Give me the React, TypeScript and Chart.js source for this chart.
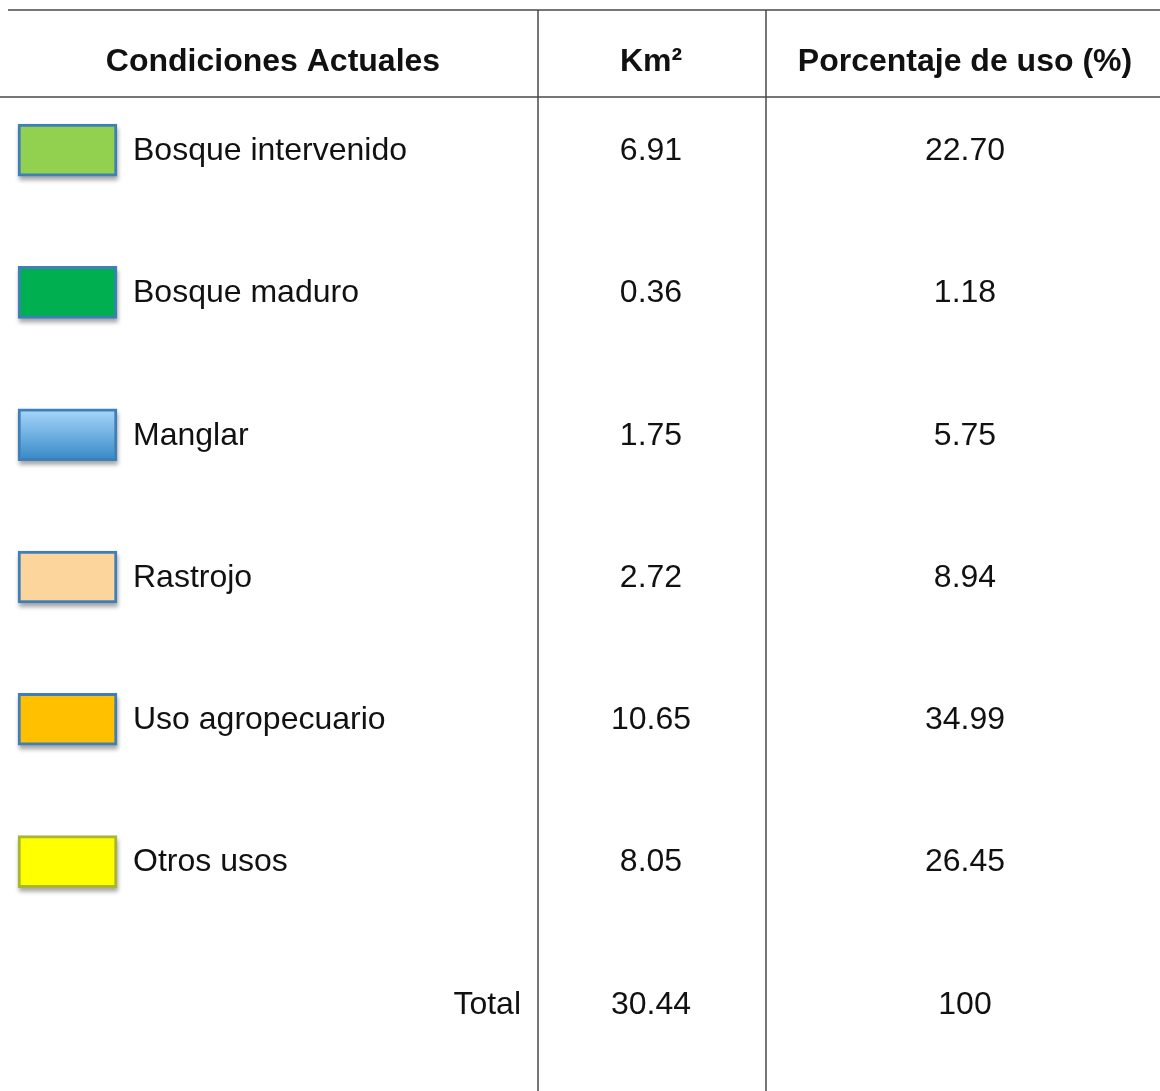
import React, { useEffect, useRef } from "react";
import { Chart, registerables } from "chart.js";

Chart.register(...registerables);

// ---- data ----
const headers = ["Condiciones Actuales", "Km²", "Porcentaje de uso (%)"];
const categories = [
  "Bosque intervenido",
  "Bosque maduro",
  "Manglar",
  "Rastrojo",
  "Uso agropecuario",
  "Otros usos",
];
const km2Values = ["6.91", "0.36", "1.75", "2.72", "10.65", "8.05"];
const percentValues = ["22.70", "1.18", "5.75", "8.94", "34.99", "26.45"];
const totalLabel = "Total";
const totalKm2 = "30.44";
const totalPercent = "100";

const swatchFills = ["#92D050", "#00B050", "gradient", "#FCD59C", "#FFC000", "#FFFF00"];
const swatchBorders = ["#3F7FB8", "#3F7FB8", "#3F7FB8", "#3F7FB8", "#3F7FB8", "#A8B632"];

// ---- layout (styles, not data) ----
const W = 1160;
const H = 1091;
const FONT = '"Liberation Sans", Arimo, Arial, sans-serif';
const SW_X0 = 18;
const SW_X1 = 117;
const COL1 = 538;
const COL2 = 766;
const LABEL_X = 133;
const KM_X = 651;
const PCT_X = 965;
const TOTAL_RIGHT = 521;
const TOP_LINE = 10;
const HEAD_LINE = 97;
const HEAD_Y = 62;
const TEXT_DY = 1;

const tablePlugin = {
  id: "tablePlugin",
  beforeDatasetsDraw(chart: any) {
    const ctx = chart.ctx;
    const meta = chart.getDatasetMeta(0);
    ctx.save();
    ctx.filter = "blur(2px)";
    ctx.fillStyle = "rgba(0,0,0,0.35)";
    meta.data.forEach((bar: any, i: number) => {
      if (i >= categories.length) return;
      const { x, y, base, height } = bar.getProps(["x", "y", "base", "height"], true);
      ctx.fillRect(Math.min(x, base) + 1, y - height / 2 + 4, Math.abs(x - base), height);
    });
    ctx.restore();
  },
  afterDraw(chart: any) {
    const ctx = chart.ctx;
    const yScale = chart.scales.y;
    ctx.save();
    // lines
    ctx.strokeStyle = "#4a4a4a";
    ctx.lineWidth = 1.5;
    ctx.beginPath();
    ctx.moveTo(8, TOP_LINE);
    ctx.lineTo(W, TOP_LINE);
    ctx.moveTo(0, HEAD_LINE);
    ctx.lineTo(W, HEAD_LINE);
    ctx.moveTo(COL1, TOP_LINE);
    ctx.lineTo(COL1, H);
    ctx.moveTo(COL2, TOP_LINE);
    ctx.lineTo(COL2, H);
    ctx.stroke();

    // headers
    ctx.fillStyle = "#111";
    ctx.textBaseline = "middle";
    ctx.font = `bold 32px ${FONT}`;
    ctx.textAlign = "center";
    ctx.fillText(headers[0], (8 + COL1) / 2, HEAD_Y);
    ctx.fillText(headers[1], KM_X, HEAD_Y);
    ctx.fillText(headers[2], PCT_X, HEAD_Y);

    // rows
    ctx.font = `32px ${FONT}`;
    categories.forEach((c, i) => {
      const y = yScale.getPixelForValue(i) + TEXT_DY;
      ctx.textAlign = "left";
      ctx.fillText(c, LABEL_X, y);
      ctx.textAlign = "center";
      ctx.fillText(km2Values[i], KM_X, y);
      ctx.fillText(percentValues[i], PCT_X, y);
    });
    const ty = yScale.getPixelForValue(categories.length) + TEXT_DY;
    ctx.textAlign = "right";
    ctx.fillText(totalLabel, TOTAL_RIGHT, ty);
    ctx.textAlign = "center";
    ctx.fillText(totalKm2, KM_X, ty);
    ctx.fillText(totalPercent, PCT_X, ty);
    ctx.restore();
  },
};

export default function App() {
  const ref = useRef<HTMLCanvasElement | null>(null);

  useEffect(() => {
    if (!ref.current) return;
    const labels = [...categories, totalLabel];
    const chart = new Chart(ref.current, {
      type: "bar",
      data: {
        labels,
        datasets: [
          {
            label: "swatch",
            data: labels.map((_, i) => (i < categories.length ? [SW_X0, SW_X1] : null)) as any,
            backgroundColor: (c: any) => {
              const i = c.dataIndex;
              const f = swatchFills[i];
              if (f === "gradient") {
                const ys = c.chart.scales.y;
                if (!ys) return "#6FB0E3";
                const y = ys.getPixelForValue(i);
                const g = c.chart.ctx.createLinearGradient(0, y - 26, 0, y + 26);
                g.addColorStop(0, "#A8D8FB");
                g.addColorStop(1, "#3688C6");
                return g;
              }
              return f;
            },
            borderColor: (c: any) => swatchBorders[c.dataIndex],
            borderWidth: 3,
            borderSkipped: false,
            barThickness: 52,
          },
        ],
      },
      options: {
        animation: false,
        responsive: false,
        indexAxis: "y",
        layout: { padding: { top: 79, bottom: 16, left: 0, right: 0 } },
        plugins: {
          legend: { display: false },
          tooltip: { enabled: false },
          title: { display: false },
        },
        scales: {
          x: { type: "linear", min: 0, max: W, display: false },
          y: { type: "category", display: false, offset: true, grid: { display: false } },
        },
      },
      plugins: [tablePlugin],
    } as any);
    let alive = true;
    const fonts: any = (document as any).fonts;
    if (fonts && fonts.load) {
      Promise.all([
        fonts.load('32px "Liberation Sans"'),
        fonts.load('bold 32px "Liberation Sans"'),
      ])
        .then(() => {
          if (alive) chart.draw();
        })
        .catch(() => {});
    }
    return () => {
      alive = false;
      chart.destroy();
    };
  }, []);

  return (
    <div style={{ position: "fixed", left: 0, top: 0, width: W, height: H, background: "#fff" }}>
      <canvas ref={ref} width={W} height={H} style={{ display: "block", width: W, height: H }} />
    </div>
  );
}
